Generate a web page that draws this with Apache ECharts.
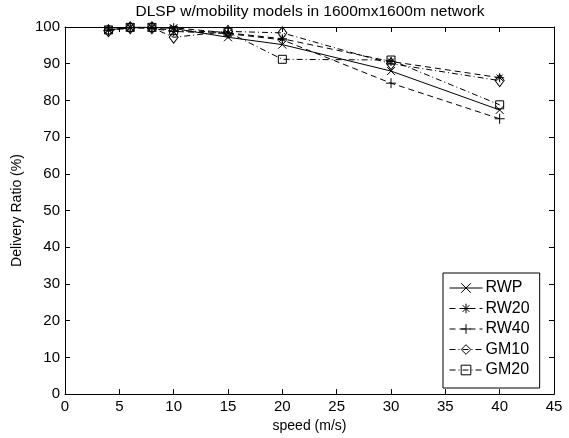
<!DOCTYPE html>
<html>
<head>
<meta charset="utf-8">
<script src="https://cdn.jsdelivr.net/npm/echarts@6/dist/echarts.min.js"></script>
<style>
  html, body { margin: 0; padding: 0; background: #fff; }
  #chart { width: 569px; height: 438px; }
</style>
</head>
<body>
<div id="chart"></div>
<script>
// Node speeds (m/s)
const speeds = [4, 6, 8, 10, 15, 20, 30, 40];

// Delivery ratio (%) per mobility model
const rwp  = [99.2, 99.9, 99.9, 99.6, 97.2, 95.2, 88.0, 77.4];
const rw20 = [99.2, 99.9, 99.9, 99.8, 98.4, 96.8, 90.6, 86.2];
const rw40 = [99.0, 99.8, 99.6, 98.8, 98.2, 96.5, 84.7, 75.0];
const gm10 = [99.0, 99.8, 99.8, 97.2, 98.8, 98.4, 90.0, 85.4];
const gm20 = [99.2, 99.9, 99.9, 99.0, 98.6, 91.2, 91.0, 78.8];

const seriesNames = ['RWP', 'RW20', 'RW40', 'GM10', 'GM20'];

// Outline marker shapes
const SYM_X    = 'path://M0,0L10,10M10,0L0,10';
const SYM_STAR = 'path://M5,0L5,10M0,5L10,5M1.5,1.5L8.5,8.5M8.5,1.5L1.5,8.5';
const SYM_PLUS = 'path://M5,0L5,10M0,5L10,5';

const FONT = 'Liberation Sans, Arial, sans-serif';

function pairs(ys) { return speeds.map((x, i) => [x, ys[i]]); }

function makeSeries(name, ys, symbol, size, dash) {
  return {
    name: name,
    type: 'line',
    data: pairs(ys),
    symbol: symbol,
    symbolSize: size,
    showAllSymbol: true,
    animation: false,
    color: '#000',
    lineStyle: { color: '#000', width: 1, type: dash },
    itemStyle: { color: 'none', borderColor: '#000', borderWidth: 1 },
    emphasis: { disabled: true }
  };
}

const DASH = [6, 4];
const DASHDOT = [6, 3, 1, 3];

const axisCommon = {
  type: 'value',
  axisLine: { show: true, onZero: false, lineStyle: { color: '#000', width: 1 } },
  axisTick: { show: true, inside: true, length: 5, lineStyle: { color: '#000' } },
  splitLine: { show: false },
  axisLabel: { color: '#000', fontFamily: FONT, fontSize: 15 }
};

const chart = echarts.init(document.getElementById('chart'), null, { renderer: 'canvas' });

chart.setOption({
  backgroundColor: '#fff',
  animation: false,
  title: {
    text: 'DLSP w/mobility models in 1600mx1600m network',
    left: 310,
    textAlign: 'center',
    top: 4,
    padding: 0,
    textStyle: { color: '#000', fontFamily: FONT, fontSize: 15.5, fontWeight: 'normal' }
  },
  grid: { left: 65, right: 15, top: 27, bottom: 39, containLabel: false },
  xAxis: [
    Object.assign({}, axisCommon, {
      min: 0, max: 45, interval: 5, position: 'bottom',
      name: 'speed (m/s)', nameLocation: 'middle', nameGap: 21,
      nameTextStyle: { color: '#000', fontFamily: FONT, fontSize: 14 },
      axisLabel: Object.assign({}, axisCommon.axisLabel, { margin: 5 })
    }),
    Object.assign({}, axisCommon, {
      min: 0, max: 45, interval: 5, position: 'top',
      axisLabel: { show: false }
    })
  ],
  yAxis: [
    Object.assign({}, axisCommon, {
      min: 0, max: 100, interval: 10, position: 'left',
      name: 'Delivery Ratio (%)', nameLocation: 'middle', nameGap: 35,
      nameTextStyle: { color: '#000', fontFamily: FONT, fontSize: 14 },
      axisLabel: Object.assign({}, axisCommon.axisLabel, { margin: 5 })
    }),
    Object.assign({}, axisCommon, {
      min: 0, max: 100, interval: 10, position: 'right',
      axisLabel: { show: false }
    })
  ],
  legend: {
    data: seriesNames,
    orient: 'vertical',
    left: 443,
    top: 273,
    padding: [7, 10, 10, 6],
    itemWidth: 33,
    itemHeight: 12,
    itemGap: 4.5,
    backgroundColor: '#fff',
    borderColor: '#000',
    borderWidth: 1,
    borderRadius: 0,
    selectedMode: false,
    lineStyle: { width: 1, color: '#000' },
    itemStyle: { borderWidth: 1, borderColor: '#000', color: 'none' },
    textStyle: { color: '#000', fontFamily: FONT, fontSize: 16, lineHeight: 16, padding: [0, 0, 0, -2] }
  },
  series: [
    makeSeries('RWP',  rwp,  SYM_X,    8, 'solid'),
    makeSeries('RW20', rw20, SYM_STAR, 9, DASH),
    makeSeries('RW40', rw40, SYM_PLUS, 10, DASH),
    makeSeries('GM10', gm10, 'diamond', [9, 12], DASHDOT),
    makeSeries('GM20', gm20, 'rect',   8, DASHDOT)
  ]
});
</script>
</body>
</html>
